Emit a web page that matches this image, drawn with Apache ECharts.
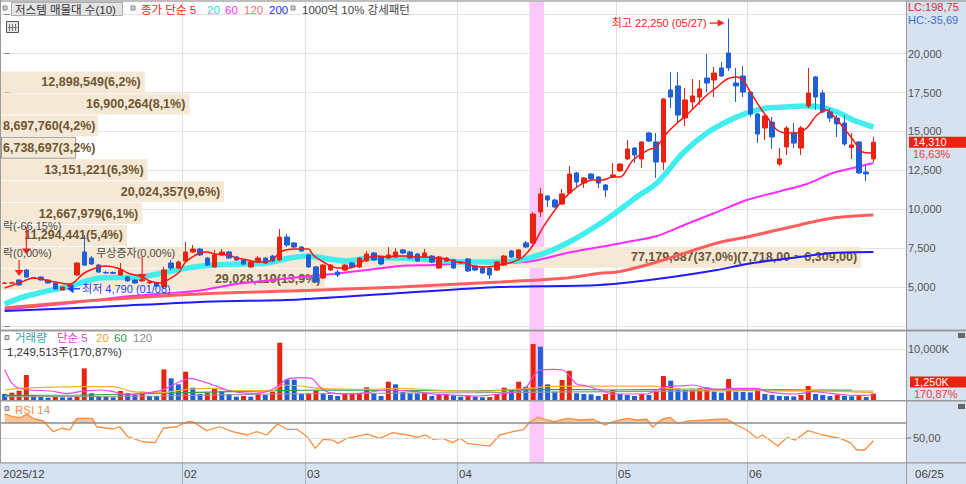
<!DOCTYPE html>
<html><head><meta charset="utf-8">
<script src="https://cdn.jsdelivr.net/npm/echarts@6.0.0/dist/echarts.min.js"></script>
<style>
html,body{margin:0;padding:0;background:#fff;}
#wrap{position:relative;width:966px;height:484px;overflow:hidden;background:#fff;}
#rp{position:absolute;left:906px;top:0;width:60px;height:484px;background:#d6e2f0;}
#bb{position:absolute;left:0;top:463px;width:906px;height:21px;background:#d6e2f0;}
#c{position:absolute;left:0;top:0;width:966px;height:484px;}
</style></head>
<body><div id="wrap"><div id="rp"></div><div id="bb"></div><div id="c"></div></div>
<script>
// ---------------- data ----------------
const tradingDays = [
  ['2025/12', [24,26,29,30]],
  ['2026/01', [2,5,6,7,8,9,12,13,14,15,16,19,20,21,22,23,26,27,28,29,30]],
  ['2026/02', [2,3,4,5,6,9,10,11,12,13,19,20,23,24,25,26,27]],
  ['2026/03', [3,4,5,6,9,10,11,12,13,16,17,18,19,20,23,24,25,26,27,30,31]],
  ['2026/04', [1,2,3,6,7,8,9,10,13,14,15,16,17,20,21,22,23,24,27,28,29,30]],
  ['2026/05', [4,6,7,8,11,12,13,14,15,18,19,20,21,22,26,27,28,29]],
  ['2026/06', [1,2,4,5,8,9,10,11,12,15,16,17,18,19,22,23,24,25]]
];
const shownMonths = ['2025/12','2026/02','2026/03','2026/04','2026/05','2026/06'];
const tickLabels  = ['2025/12','02','03','04','05','06'];

const opens = [5230,5250,5450,6090,5600,5640,5450,5260,4810,5060,
5770,7250,6860,6410,5930,5930,5770,5640,5450,5390,
5260,5260,5000,6540,6220,6670,7250,7440,6860,6290,
7060,7250,6930,6740,6290,6610,6860,6990,6740,8210,
7830,7570,7060,6290,5580,6090,5960,6090,6540,6290,
6670,7190,6930,6860,6930,7380,7250,7120,6930,6990,
6220,6670,6740,6540,6800,6350,6220,6220,6090,6410,
7310,6860,7830,7830,9820,10850,10590,10330,11040,12330,
11680,12260,12070,11560,12070,12460,13230,13930,13230,14900,
14320,13030,17660,17920,15860,16890,17210,18430,18300,19080,
20040,18110,18560,17530,16120,15220,15600,12900,14000,14900,
13930,16630,18500,17470,16250,15860,15540,13970,14320,12390,
13230];
const highs = [5320,5330,5480,6150,5640,5680,5480,5290,5030,5200,
6600,8340,6990,6480,6030,6000,6540,5700,5500,5520,
5390,5300,6290,6740,6700,7890,7700,7500,6930,7380,
7440,7310,6990,6800,6670,6990,6930,7060,8730,8410,
7890,7640,7120,6350,6480,6480,6090,6480,6610,6930,
7310,7250,6990,7570,7500,7440,7310,7190,7440,7060,
7000,6930,6800,6670,6860,6410,6290,6290,6670,7060,
7380,7440,7960,9820,11360,10910,10660,11300,12780,12400,
12070,12330,12130,11620,12970,12970,14450,14000,14380,14960,
14900,17150,18820,18820,17790,18370,18300,19970,19140,19460,
22250,19080,19200,17600,16180,16050,15930,13930,15350,15540,
15350,19080,18560,17660,16500,16050,16050,14900,14380,12840,
14640];
const lows = [5200,5220,5100,5600,5540,5420,5230,4850,4790,5000,
5700,6350,6410,5900,5840,5840,5740,5350,5200,5350,
5200,5000,4970,6090,6150,6600,7190,7000,6350,6220,
6990,6800,6670,6410,6220,6540,6480,6610,6670,7570,
7500,7250,6220,5260,5510,6030,5640,6030,6220,6220,
6610,6670,6410,6800,6860,7120,6800,6610,6860,6540,
6150,6610,6150,6480,5960,6030,5840,5510,6030,6350,
6860,6800,7500,7760,9500,10140,10080,10270,10980,11360,
11360,11880,11360,10780,12000,12390,13160,12970,12650,14320,
12010,12520,16500,15540,15350,16380,16700,17530,17210,18500,
18880,16890,17210,15930,14260,14450,13870,12780,13480,13930,
13480,16500,16380,16180,15600,14640,14060,13230,12260,11810,
13030];
const closes = [5260,5270,5130,5640,5570,5450,5260,4870,5000,5130,
6540,6410,6480,5960,5900,5880,6090,5390,5260,5470,
5320,5060,6090,6220,6600,7250,7440,7060,6410,7060,
7250,6860,6740,6480,6610,6860,6540,6670,8210,7700,
7570,7310,6290,5320,6410,6410,5770,6410,6290,6860,
7120,6740,6480,7060,7250,7190,6860,6670,7190,6610,
6930,6860,6220,6610,6030,6090,5900,5770,6610,6990,
6930,7380,7570,9690,10980,10590,10140,10980,12260,11750,
12010,11940,11680,11230,12200,12900,13870,13480,14320,14380,
13030,17080,17210,16050,17020,17280,17730,18110,18750,18560,
19080,17920,17530,16120,14830,15990,14640,13230,15220,14250,
15220,17470,17210,16250,15860,15480,14190,14130,12330,12270,
14310];
// volume in thousands of shares
const volumes = [1180,1440,1830,4900,980,650,460,650,520,500,
780,6200,1310,650,600,520,1760,1300,980,1630,
800,780,6010,4250,3070,5550,2420,1180,1440,2160,
1630,1180,650,780,650,1310,980,1630,11230,4050,
4000,1200,1250,1830,1180,980,780,1180,1200,1250,
2480,1310,780,3590,3070,1570,1310,1300,1440,780,
1100,1150,910,650,850,650,520,580,1180,2420,
2090,3590,2610,10970,10450,3070,1630,3920,5750,1310,
1180,1100,780,1180,1960,1180,980,780,1180,980,
1630,4700,3790,2290,1960,2200,2290,2480,1630,1440,
4110,1630,1570,1500,1960,1180,1000,800,760,700,
980,2740,1180,980,780,980,780,720,980,600,
1250];
const lastVolumeShares = 1249513;
const lastVolumePct = 170.87;

// moving averages: [day index, value]
const ma5Pts = [[0,4940],[2,5260],[4,5580],[5,5510],[7,5320],[9,5190],[11,5900],[13,6290],[14,6350],[16,6160],[17,5900],[19,5640],[20,5390],[21.5,5260],[22,5320],[24,5900],[25,6610],[27,7190],[28,7250],[29,7120],[31,7060],[32,6860],[33.5,6740],[35,6610],[36,6610],[37.3,6860],[38,7250],[40,7440],[42,7440],[42.6,7060],[44,6610],[45.3,6290],[46,6220],[47.7,6220],[49,6480],[50,6860],[51.4,6990],[52.8,6930],[54,6990],[55.6,6990],[57,6930],[58.3,6930],[59.7,6860],[61,6800],[62.5,6610],[63.8,6540],[64.7,6350],[66.6,6290],[68.4,6410],[70.2,6610],[71.6,6930],[73,7700],[74.4,8860],[75.7,9760],[77.1,10590],[78.5,11230],[79.9,11680],[81.3,11880],[82.6,11880],[84,12070],[85,12070],[86.8,13160],[88.9,13810],[90,14000],[91.5,14900],[92.9,15540],[94.2,16050],[95.6,16700],[97,17340],[98.4,17850],[99.8,18370],[101.1,18500],[102,18300],[103,17530],[104.3,16570],[105.3,15930],[106.7,15090],[108,14900],[109.4,14900],[110.8,15220],[112.2,16050],[113.6,16380],[114.4,16050],[115.8,15280],[117.2,14450],[118.5,13680],[120,13610]];
const ma20Pts = [[0,3900],[2.1,4290],[5.3,4680],[8.6,5000],[13.2,5580],[18.7,5640],[22.4,5960],[25.2,6220],[28.8,6410],[32.5,6480],[36.2,6540],[39.4,6860],[41.8,6990],[44,6860],[47.3,6670],[50.5,6860],[54.6,6860],[59.2,6740],[63.8,6610],[68.4,6610],[71.2,6740],[73,6930],[75.7,7380],[78.5,8020],[81.3,8790],[84,9630],[87.3,10780],[90.1,11680],[93.7,13610],[97,14900],[100.2,15730],[102.5,16180],[105.3,16500],[108,16570],[110.3,16630],[112.6,16570],[115,16250],[117.2,15730],[120,15280]];
const ma60Pts = [[0,3560],[8,3900],[15,4300],[21.5,4560],[27,4780],[31.1,5130],[35.7,5390],[40.8,5640],[45.3,5840],[50,6090],[54.6,6350],[59.2,6410],[63.9,6540],[68.4,6540],[73,6670],[77.7,7190],[82.2,7570],[86,7890],[90.1,8280],[94.2,9050],[98.4,9820],[102.5,10590],[106.7,11110],[110.8,11620],[114.4,12330],[117.2,12650],[120,12970]];
const ma120Pts = [[0,3650],[13.2,4160],[27,4550],[43.6,4810],[54.6,5000],[68.4,5320],[77.7,5580],[82.2,5880],[85,6000],[90.1,6610],[98.4,7830],[102.5,8210],[109.8,8990],[114.4,9440],[120,9630]];
const ma200Pts = [[0,3460],[13.2,3720],[27,4040],[40.8,4200],[54.6,4610],[68.4,5000],[82.2,5130],[90.1,5510],[98.4,6090],[102.5,6480],[109.8,6930],[114.4,7190],[120,7250]];

const vma5Pts = [[0,6000],[1,3300],[2,2300],[3.5,1960],[6.3,1760],[8.6,1310],[10.4,1630],[11.8,1830],[13.2,1960],[15,1630],[16.9,980],[19.1,1310],[21.5,1830],[22.8,2610],[24.2,3590],[25.6,4250],[27,3790],[28.8,2940],[30.7,1960],[32.5,1440],[34.3,1310],[36.2,1630],[37.6,2610],[39,4050],[40.8,4380],[42.4,4250],[43.5,2610],[44.9,1440],[47.7,1180],[50,1440],[52.8,1960],[54.6,1830],[57,1630],[59.2,1180],[62,980],[65.2,780],[68.4,1180],[70.8,1630],[72.1,2610],[73,4570],[74,5880],[75.7,6010],[77.1,5880],[78.1,4570],[79,3130],[80.4,2740],[82.2,1960],[84,1180],[86.4,1180],[88.7,1180],[90.1,1960],[91.5,2610],[93.3,2740],[95.1,2940],[97,2290],[98.8,2090],[100.2,2290],[102,2290],[103.9,2290],[105.3,1630],[107.1,1310],[109.4,1180],[111.6,1630],[114,1310],[116.3,980],[118.5,910],[120,980]];
const vma20Pts = [[0,1960],[2.1,2290],[10.4,2610],[15,2610],[17.7,1630],[21.5,1440],[25.2,2090],[28.8,2290],[31.5,1830],[37.1,1830],[38.4,2940],[40.8,2740],[43.5,2290],[50,2090],[54.6,2290],[59.2,1960],[65.2,1700],[72.5,2290],[74.7,2610],[78.5,2740],[84,2740],[89.6,2740],[91.5,2290],[97.8,1960],[104.7,1960],[111.6,1830],[116.3,1630],[120,1440]];
const vma60Pts = [[0,900],[10.4,980],[21.5,1310],[37.1,1830],[44.9,1960],[65.2,1760],[74.7,2090],[84,1960],[93.3,2090],[102.5,2090],[111.6,1960],[117,1960]];
const vma120Pts = [[0,650],[21.5,780],[37.1,1180],[65.2,1440],[84,1630],[102.5,1830],[111.6,1760],[120,1760]];

const rsiPts = [[0,82],[1.1,78.4],[2.1,77],[3.1,81.6],[3.9,76.2],[5.3,73],[6.7,58.4],[7.9,63],[9,60.7],[10,76.2],[12.1,76.2],[12.7,65],[15,62],[15.9,65],[17,51.8],[19.1,45],[20.8,43.8],[21.9,63],[23.8,65],[25.2,71.7],[26,71.7],[27.9,59.8],[29.7,65],[31.5,58.4],[33.5,54],[34.8,58.4],[36.2,54],[37.7,68.7],[39,61.6],[40.4,61.6],[41.8,51.8],[42.9,36.2],[44,48.2],[45.3,47.3],[46,42.9],[47.3,49.6],[50.1,55.3],[51.8,49.6],[53.6,57.1],[55.6,54],[57,50.9],[58.1,54],[59.2,48.2],[60.5,49.6],[61.9,43.8],[62.9,49.6],[63.9,42.9],[65.6,40.7],[67,39.3],[68.4,54],[70.2,58.4],[71.6,60.7],[72.6,71.7],[73.7,77.6],[74.9,74],[75.9,71.7],[77.7,76.2],[79.5,74],[81.3,75],[82.9,67.3],[84,71.7],[86,76.2],[87.3,74],[88.7,75],[89.5,64.2],[90.8,75],[91.9,77.6],[92.9,69.6],[94.6,72.7],[97,74],[98.8,75],[99.8,75],[101.1,67.3],[102.5,60.7],[103.9,49.6],[104.7,54],[106.8,39.3],[108.1,50.9],[109.2,47.3],[111,59.8],[113,54],[115.4,49.6],[116.8,43.8],[117.7,34],[118.8,34],[120,46.4]];

// volume profile (bottom -> top)
const profileEdges = [4790,6199,7608,9017,10426,11835,13244,14653,16062,17471,18880];
const profileVol = [29028119,77179687,11294441,12667979,20024357,13151221,6738697,8697760,16900264,12898549];
const profilePct = [13.9,37.0,5.4,6.1,9.6,6.3,3.2,4.2,8.1,6.2];
const maxBandRange = [7718, 6309];

// events: [day index, arrow top price, arrow tip price]
const eventArrows = [[2, 6740, 5710], [3, 8860, 7090], [19, 6930, 5450]];
// event labels (visible part): [text, day index, price]
const eventTexts = [['락(-66,15%)', 0, 8950], ['락(0,00%)', 0, 7200], ['무상증자(0,00%)', 13.2, 7200]];
const strongDays = [73, 74];

// ---------------- helpers ----------------
const dates = tradingDays.flatMap(([m, ds]) => ds.map(d => m + '/' + String(d).padStart(2, '0')));
const N = dates.length;
const PAD = 4;
const cats = dates.concat(Array.from({length: PAD}, (_, k) => 'pad' + k));
const monthStart = tradingDays.map(([m]) => dates.findIndex(d => d.startsWith(m)));
const fmt = v => Math.round(v).toLocaleString('en-US');
const fmtDec = (v, d) => { const s = Math.abs(v).toFixed(d).split('.'); return (v < 0 ? '-' : '') + Number(s[0]).toLocaleString('en-US') + (s[1] ? ',' + s[1] : ''); };
const FONT = '"Liberation Sans","Noto Sans CJK KR",sans-serif';
const RED = '#e8230f', BLUE = '#1f5fd8';
const XMAX = cats.length - 0.5;

const candles = opens.map((o, i) => [o, closes[i], lows[i], highs[i]]);
const lastClose = closes[N - 1];
const curBand = profileEdges.findIndex((e, k) => k < profileVol.length && lastClose >= e && lastClose < profileEdges[k + 1]);
const maxVol = Math.max(...profileVol);
const profileLabel = k => fmt(profileVol[k]) + '(' + fmtDec(profilePct[k], 1) + '%)' +
  (profileVol[k] === maxVol ? '(' + fmtDec(maxBandRange[0], 2) + ' ~ ' + fmtDec(maxBandRange[1], 2) + ')' : '');

function line(name, pts, color, width, xi, yi, z, extra) {
  return Object.assign({type: 'line', name, xAxisIndex: xi, yAxisIndex: yi, data: pts, symbol: 'none',
    smooth: 0.3, z, silent: true, lineStyle: {color, width}}, extra || {});
}

const chart = echarts.init(document.getElementById('c'), null, {renderer: 'svg', width: 966, height: 484});

const catAxis = gi => ({type: 'category', gridIndex: gi, data: cats, boundaryGap: true, show: false});
const valX = gi => ({type: 'value', gridIndex: gi, min: -0.5, max: XMAX, show: false});

const option = {
  animation: false,
  grid: [
    {left: 1, top: 14.7, width: 905, height: 311.2},
    {left: 1, top: 330, width: 905, height: 70},
    {left: 1, top: 400.5, width: 905, height: 62.5}
  ],
  xAxis: [
    catAxis(0), valX(0),
    {type: 'value', gridIndex: 0, min: 0, max: 81.2e6, show: false},
    catAxis(1), valX(1),
    catAxis(2), valX(2)
  ],
  yAxis: [
    {type: 'value', gridIndex: 0, position: 'right', min: 2500, max: 22500, interval: 2500,
      axisLine: {show: false}, axisTick: {show: true, length: 5, lineStyle: {color: '#777'}},
      axisLabel: {margin: 2, fontSize: 11, color: '#555', fontFamily: FONT,
        formatter: v => (v >= 5000 && v <= 20000) ? fmt(v) : ''},
      splitLine: {lineStyle: {color: '#e3e3e3'}}},
    {type: 'value', gridIndex: 1, position: 'right', min: 0, max: 13725, interval: 10000,
      axisLine: {show: false}, axisTick: {show: true, length: 5, lineStyle: {color: '#777'}},
      axisLabel: {margin: 2, fontSize: 11, color: '#555', fontFamily: FONT,
        formatter: v => v === 10000 ? fmt(v) + 'K' : ''},
      splitLine: {lineStyle: {color: '#e3e3e3'}}},
    {type: 'value', gridIndex: 2, position: 'right', min: 16.67, max: 100,
      axisLine: {show: false}, axisTick: {show: false}, axisLabel: {show: false}, splitLine: {show: false}}
  ],
  series: [
    {type: 'custom', name: 'profile', xAxisIndex: 2, yAxisIndex: 0, z: 1, silent: true,
      data: profileVol.map((v, k) => [v, profileEdges[k], profileEdges[k + 1]]),
      encode: {x: 0, y: [1, 2]},
      renderItem: (params, api) => {
        const k = params.dataIndex;
        const v = api.value(0), lo = api.value(1), hi = api.value(2);
        const a = api.coord([0, hi]), b = api.coord([v, lo]);
        const x0 = params.coordSys.x;
        const w = b[0] - x0, h = b[1] - a[1];
        const kids = [{type: 'rect', shape: {x: x0, y: a[1] + 0.5, width: w, height: h - 1}, style: {fill: '#f5e8d5'}}];
        if (k === curBand) kids.push({type: 'rect', shape: {x: x0 + 0.5, y: a[1] + 0.5, width: w - 1, height: h - 1}, style: {fill: 'none', stroke: '#9a9a9a', lineWidth: 1}});
        const narrow = w < 105;
        kids.push({type: 'text', style: {text: profileLabel(k), x: narrow ? x0 + 2 : b[0] - 4, y: (a[1] + b[1]) / 2,
          align: narrow ? 'left' : 'right', textAlign: narrow ? 'left' : 'right', verticalAlign: 'middle', textVerticalAlign: 'middle',
          fill: '#6e5632', font: 'bold 12.5px ' + FONT}});
        return {type: 'group', children: kids};
      }},
    line('MA60', ma60Pts, '#ff2cff', 2, 1, 0, 3),
    line('MA200', ma200Pts, '#1c1cff', 2, 1, 0, 3),
    line('MA120', ma120Pts, '#ff5e5e', 3, 1, 0, 3),
    line('MA20', ma20Pts, '#40eeee', 5.5, 1, 0, 3),
    {type: 'candlestick', name: 'price', xAxisIndex: 0, yAxisIndex: 0, z: 4, barWidth: 5, silent: true, data: candles,
      itemStyle: {color: RED, color0: BLUE, borderColor: RED, borderColor0: BLUE, borderWidth: 1}},
    line('MA5', ma5Pts, '#ff1414', 1.5, 1, 0, 5),
    {type: 'bar', name: 'volume', xAxisIndex: 3, yAxisIndex: 1, barWidth: 5, silent: true, z: 3, data: volumes,
      itemStyle: {color: p => (p.dataIndex === 0 || volumes[p.dataIndex] < volumes[p.dataIndex - 1]) ? BLUE : RED}},
    line('V120', vma120Pts, '#9a9a9a', 1.2, 4, 1, 4),
    line('V60', vma60Pts, '#2ea050', 1.2, 4, 1, 4),
    line('V20', vma20Pts, '#f2b030', 1.2, 4, 1, 4),
    line('V5', vma5Pts, '#e84ae8', 1.2, 4, 1, 4),
    {type: 'line', name: 'rsiFill', xAxisIndex: 6, yAxisIndex: 2, z: 3, silent: true, symbol: 'none',
      data: rsiPts.map(([i, v]) => [i, Math.max(v, 70)]), lineStyle: {width: 0},
      areaStyle: {color: '#f9c49c', opacity: 1, origin: 70}},
    {type: 'line', name: 'RSI', xAxisIndex: 6, yAxisIndex: 2, z: 4, silent: true, symbol: 'none', data: rsiPts,
      lineStyle: {color: '#ff8c3c', width: 1.3},
      markLine: {silent: true, symbol: 'none', label: {show: false},
        data: [{yAxis: 50, lineStyle: {color: '#dcdcdc', type: 'solid', width: 1}},
               {yAxis: 70, lineStyle: {color: '#8c8c8c', type: 'solid', width: 1.5}}]}}
  ]
};
chart.setOption(option);

// ---------------- overlays positioned through the axes ----------------
const g = [];
const T = (x, y, text, fill, size, align, weight) => g.push({type: 'text', z: 100, silent: true,
  style: {x, y, text, fill, font: (weight || 'normal') + ' ' + (size || 11) + 'px ' + FONT,
    align: align || 'left', textAlign: align || 'left', verticalAlign: 'middle', textVerticalAlign: 'middle'}});
const R = (x, y, w, h, fill, stroke, z) => g.push({type: 'rect', z: z === undefined ? 100 : z, silent: true,
  shape: {x, y, width: w, height: h}, style: {fill: fill || 'none', stroke: stroke || null, lineWidth: 1}});
const L = (x1, y1, x2, y2, stroke, w, z) => g.push({type: 'line', z: z === undefined ? 100 : z, silent: true,
  shape: {x1, y1, x2, y2}, style: {stroke, lineWidth: w || 1}});
const P = (pts, fill) => g.push({type: 'polygon', z: 100, silent: true, shape: {points: pts}, style: {fill}});
const xOf = i => chart.convertToPixel({xAxisIndex: 1}, i);
const pxy = (i, p) => chart.convertToPixel({xAxisIndex: 1, yAxisIndex: 0}, [i, p]);
const yVol = v => chart.convertToPixel({yAxisIndex: 1}, v);
const yRsi = v => chart.convertToPixel({yAxisIndex: 2}, v);

// strong-pattern highlight band
R(xOf(strongDays[0] - 0.5), 2, xOf(strongDays[strongDays.length - 1] + 0.5) - xOf(strongDays[0] - 0.5), 461, '#fcc8fa', null, 0);

// month grid lines and date labels
tradingDays.forEach(([m], k) => {
  const si = monthStart[k];
  const bx = Math.round(xOf(si - 0.5)) + 0.5;
  const li = shownMonths.indexOf(m);
  if (li > 0) { L(bx, 2, bx, 463, '#dedede', 1, 0); L(bx, 463, bx, 484, '#aab6c6', 1, 50); }
  if (li >= 0) T(li === 0 ? 3 : bx + 1.5, 473.5, tickLabels[li], '#444', 11.5);
});
const lastDate = dates[N - 1];
T(915, 473.5, lastDate.slice(5), '#444', 11.5);

// frame
L(0, 1, 966, 1, '#a8a8a8', 1.5);
L(0.5, 0, 0.5, 463, '#9a9a9a', 1);
L(906.5, 0, 906.5, 484, '#9a9a9a', 1);
L(0, 330.5, 966, 330.5, '#9a9a9a', 2);
L(0, 400.8, 966, 400.8, '#9a9a9a', 1.5);
L(0, 462.8, 966, 462.8, '#9a9a9a', 1.2);

// top legend
R(3, 6, 4, 4, '#d0d0d0', '#888');
R(11.5, 2.5, 111, 13, '#e4e4e4', '#ababab');
T(15, 9.5, '저스템 매물대 수(10)', '#333', 11.5);
R(131, 6, 4, 4, '#d0d0d0', '#888');
T(141, 9.5, '종가 단순 5', '#ff2222', 11.5);
T(207, 9.5, '20', '#22e4e4', 11.5);
T(225, 9.5, '60', '#ff2cff', 11.5);
T(244, 9.5, '120', '#ff7272', 11.5);
T(269, 9.5, '200', '#2a2aff', 11.5);
R(291, 6, 4, 4, '#d0d0d0', '#888');
T(302, 9.5, '1000억 10% 강세패턴', '#444', 11.5);
R(6.5, 21.5, 12, 11, '#e6e6e6', '#555');
L(9.5, 24, 9.5, 31, '#777'); L(12.5, 24, 12.5, 31, '#777'); L(15.5, 24, 15.5, 31, '#777'); L(8, 27.5, 17, 27.5, '#777');

// right panel texts
const minLow = Math.min(...lows), maxHigh = Math.max(...highs);
const minIdx = lows.indexOf(minLow), maxIdx = highs.indexOf(maxHigh);
T(908, 7, 'LC:' + fmtDec((lastClose / minLow - 1) * 100, 2), '#e02828', 11);
T(908, 19.5, 'HC:' + fmtDec((lastClose / maxHigh - 1) * 100, 2), '#3a6fd8', 11);
const pLast = pxy(N - 1, lastClose);
R(909, pLast[1] - 5.5, 57, 11, RED, null);
T(913, pLast[1], fmt(lastClose), '#ffffff', 11);
T(913, pLast[1] + 11.5, fmtDec((lastClose / closes[N - 2] - 1) * 100, 2) + '%', '#f03c3c', 11);

const vLastY = yVol(volumes[N - 1]);
R(910, vLastY - 17, 56, 11, RED, null);
T(914, vLastY - 11.5, fmt(volumes[N - 1]) + 'K', '#ffffff', 11);
T(914, vLastY, fmtDec(lastVolumePct, 2) + '%', '#f03c3c', 11);
R(958, 333, 7, 5, '#666', null);
R(958, 404, 7, 5, '#666', null);
const y50 = yRsi(50);
L(906, y50, 911, y50, '#777');
T(913, y50, fmtDec(50, 2), '#555', 11);

// volume & RSI legends
R(5, 335.5, 4, 4, '#d0d0d0', '#888');
T(15, 338, '거래량', '#3a9e9e', 11.5);
T(57, 338, '단순 5', '#e040e0', 11.5);
T(96, 338, '20', '#f0a030', 11.5);
T(114, 338, '60', '#2a9a50', 11.5);
T(133, 338, '120', '#8a8a8a', 11.5);
T(7, 351.5, fmt(lastVolumeShares) + '주(' + fmtDec(lastVolumePct, 2) + '%)', '#333', 11.5);
R(5, 406.5, 4, 4, '#d0d0d0', '#888');
T(15, 409.5, 'RSI 14', '#ff8838', 11.5);

// event arrows and labels
eventArrows.forEach(([i, top, tip]) => {
  const a = pxy(i, top), b = pxy(i, tip);
  L(a[0], a[1], a[0], b[1] - 5, '#ff2020', 1.2);
  P([[b[0] - 4.5, b[1] - 6], [b[0] + 4.5, b[1] - 6], [b[0], b[1]]], '#ff2020');
});
eventTexts.forEach(([t, i, p]) => {
  const a = pxy(i, p);
  T(i === 0 ? 3 : a[0] - 4, a[1], t, '#4a4a4a', 11);
});

// extreme markers
const hp = pxy(maxIdx, maxHigh);
const hTip = hp[0] - 4, hY = hp[1] + 4.5;
L(hTip - 15, hY, hTip - 5, hY, '#ff2020', 1.3);
P([[hTip - 7, hY - 3.5], [hTip - 7, hY + 3.5], [hTip, hY]], '#ff2020');
T(hTip - 18, hY, '최고 ' + fmt(maxHigh) + ' (' + dates[maxIdx].slice(5) + ')', '#ff2020', 11, 'right');
const lp = pxy(minIdx, minLow);
const lTip = lp[0] + 4.5, lY = lp[1] - 1.5;
P([[lTip, lY], [lTip + 6.5, lY - 4.5], [lTip + 6.5, lY + 4.5]], '#1c3cff');
L(lTip + 6, lY, lTip + 13, lY, '#1c3cff', 1.3);
T(lTip + 15, lY, '최저 ' + fmt(minLow) + ' (' + dates[minIdx].slice(5) + ')', '#1c3cff', 11);

chart.setOption({graphic: g});
</script></body></html>
